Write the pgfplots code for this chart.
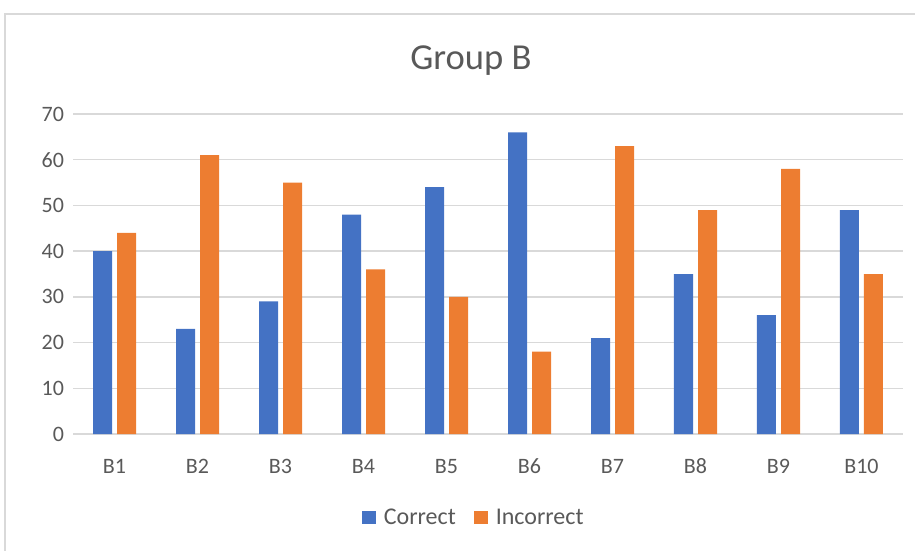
\documentclass[border=0pt]{standalone}
\usepackage{fontspec}
\setmainfont{Carlito}
\usepackage{pgfplots}
\pgfplotsset{compat=1.18}
\definecolor{cblue}{HTML}{4472C4}
\definecolor{corange}{HTML}{ED7D31}
\definecolor{cgrid}{HTML}{D9D9D9}
\definecolor{ctext}{HTML}{595959}
\begin{document}
\begin{tikzpicture}
\useasboundingbox (0,0) rectangle (457.5bp,-275.5bp);
\draw[cgrid, line width=0.75bp] (2.5bp,-275.5bp) -- (2.5bp,-7bp) -- (457.5bp,-7bp);
\node[font=\fontsize{18.3bp}{21bp}\selectfont, text=ctext] at (235.5bp,-30.5bp) {Group B};
\begin{axis}[
  at={(36.5bp,-217bp)}, anchor=south west,
  scale only axis, width=415bp, height=160bp,
  xmin=-0.5, xmax=9.5, ymin=0, ymax=70,
  xtick={0,...,9},
  xticklabels={B1,B2,B3,B4,B5,B6,B7,B8,B9,B10},
  ytick={0,10,...,70},
  ymajorgrids, grid style={cgrid, line width=0.75bp},
  axis lines*=left,
  x axis line style={cgrid, line width=0.75bp, -},
  y axis line style={draw=none},
  major tick length=0pt,
  tick style={draw=none},
  /pgf/number format/assume math mode=true,
  ticklabel style={font=\fontsize{11bp}{13bp}\selectfont, text=ctext},
  xticklabel style={yshift=-8bp, text height=8bp, text depth=2bp},
  yticklabel style={xshift=-1bp},
  ybar, bar width=9.5bp,
  legend style={at={(0.484,-0.2625)}, anchor=center, draw=none, fill=none,
    legend columns=2, font=\fontsize{12bp}{14bp}\selectfont, text=ctext,
    /tikz/every odd column/.append style={column sep=2bp},
    /tikz/every even column/.append style={column sep=7bp}},
  legend image code/.code={\fill (0bp,-3.2bp) rectangle (7bp,3.3bp);},
]
\addplot[fill=cblue, draw=none, bar shift=-6bp] coordinates {
(0,40) (1,23) (2,29) (3,48) (4,54) (5,66) (6,21) (7,35) (8,26) (9,49)};
\addplot[fill=corange, draw=none, bar shift=6bp] coordinates {
(0,44) (1,61) (2,55) (3,36) (4,30) (5,18) (6,63) (7,49) (8,58) (9,35)};
\legend{Correct, Incorrect}
\end{axis}
\end{tikzpicture}
\end{document}
